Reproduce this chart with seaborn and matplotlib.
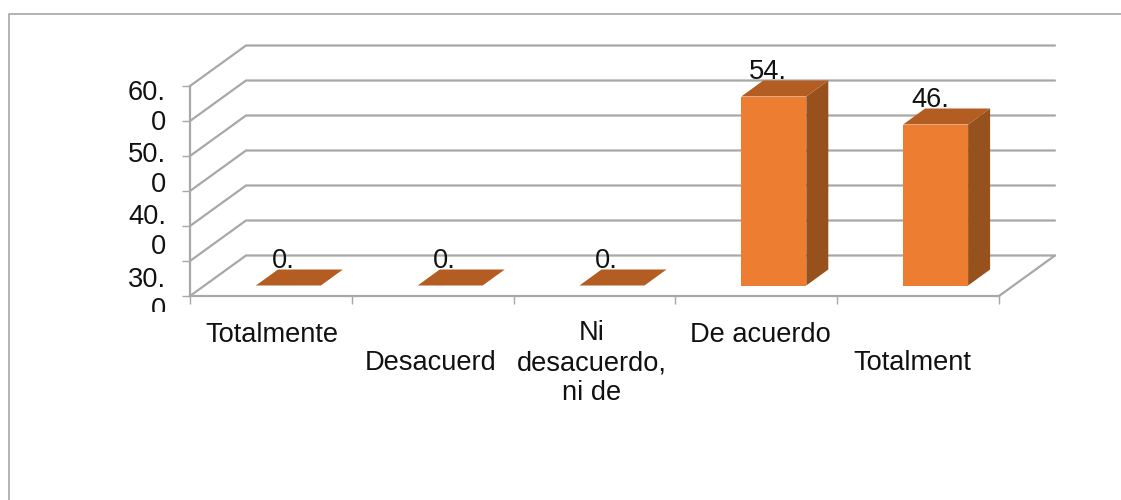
import pandas as pd
import seaborn as sns
import matplotlib.pyplot as plt
from matplotlib.patches import Polygon, Rectangle
from matplotlib.lines import Line2D

categories = ["Totalmente", "Desacuerd", "Ni\ndesacuerdo,\nni de", "De acuerdo", "Totalment"]
values = [0.0, 0.0, 0.0, 54.0, 46.0]
value_labels = ["0.", "0.", "0.", "54.", "46."]
y_labels = ["60.\n0", "50.\n0", "40.\n0", "30.\n0"]
grid_values = [0, 10, 20, 30, 40, 50, 60]

df = pd.DataFrame({"category": categories, "value": values})

sns.set_theme(style="white")
plt.rcParams["font.family"] = ["Liberation Sans", "DejaVu Sans"]

W, H = 1121, 500
GREY = "#A8A8A8"
FS = 19.6
fig = plt.figure(figsize=(W / 100, H / 100), dpi=100)
ax = fig.add_axes([190 / W, (H - 296) / H, 809 / W, 210 / H])

sns.barplot(data=df, x="category", y="value", color="#ED7D31", saturation=1,
            width=65 / 161.8, ax=ax, zorder=3, edgecolor="none", linewidth=0)
ax.set_xlim(-0.5, 4.5)
ax.set_ylim(0, 60)
ax.set_xlabel("")
ax.set_ylabel("")

# pretend 3d: depth is just an offset in data units
x_px = 1 / 161.8
y_px = 1 / 3.5
wall_dx, wall_dy = 56 * x_px, 40.5 * y_px
bar_dx, bar_dy = 17.5 * x_px, 10.5 * y_px
face_dx, face_dy = 22 * x_px, 16 * y_px

for v in grid_values:
    ax.plot([-0.5, -0.5 + wall_dx, 4.5 + wall_dx], [v, v + wall_dy, v + wall_dy],
            color=GREY, lw=1.6, clip_on=False, zorder=1, solid_joinstyle="miter")
ax.plot([4.5, 4.5 + wall_dx], [0, wall_dy], color=GREY, lw=1.6, clip_on=False, zorder=1)

# front faces come from seaborn, shift them back and add top + side
for i, bar in enumerate(ax.patches):
    x0 = bar.get_x() + bar_dx
    w = bar.get_width()
    h = bar.get_height()
    bar.set_x(x0)
    bar.set_y(bar_dy)
    bar.set_clip_on(False)
    y0 = bar_dy
    y1 = y0 + h
    ax.add_patch(Polygon([(x0 + w, y0), (x0 + w + face_dx, y0 + face_dy),
                          (x0 + w + face_dx, y1 + face_dy), (x0 + w, y1)],
                         facecolor="#97511D", edgecolor="none", clip_on=False, zorder=3))
    ax.add_patch(Polygon([(x0, y1), (x0 + w, y1), (x0 + w + face_dx, y1 + face_dy),
                          (x0 + face_dx, y1 + face_dy)],
                         facecolor="#B35D22", edgecolor="none", clip_on=False, zorder=3))
    ax.annotate(value_labels[i], (x0 + w / 2, y1 + face_dy), xytext=(-4, -3.4),
                textcoords="offset points", ha="center", va="bottom",
                fontsize=FS, color="#111111", zorder=2, annotation_clip=False)

for s in ["top", "right"]:
    ax.spines[s].set_visible(False)
for s in ["left", "bottom"]:
    ax.spines[s].set_color(GREY)
    ax.spines[s].set_linewidth(1.6)

# ticks mark the category edges, labels are placed by hand like the staggered original
ax.set_yticks(grid_values)
ax.set_yticklabels([])
ax.set_xticks([i - 0.5 for i in range(6)])
ax.set_xticklabels([])
ax.tick_params(axis="both", which="major", length=6, width=1, color=GREY,
               left=True, bottom=True)

label_spots = [(272, 322), (431, 350), (592, 320), (760, 322), (912, 350)]
for lab, (px, py) in zip(categories, label_spots):
    fig.text(px / W, 1 - py / H, lab, ha="center", va="top", fontsize=FS,
             color="#111111", linespacing=1.2)

# bottom y label is cut off in the original
clip = Rectangle((0, 1 - 312 / H), 1, 312 / H, transform=fig.transFigure)
for lab, py in zip(y_labels, [107.5, 169.5, 231.5, 295]):
    t = fig.text(166 / W, 1 - py / H, lab, ha="right", va="center", fontsize=FS,
                 color="#111111", linespacing=1.2, multialignment="right")
    t.set_clip_path(clip)

# chart frame, only top and left fall inside the crop
fig.add_artist(Line2D([9 / W, 9 / W, 1], [0, 1 - 14 / H, 1 - 14 / H],
                      color="#A6A6A6", lw=1.2))

fig.savefig("out.png", dpi=100)
